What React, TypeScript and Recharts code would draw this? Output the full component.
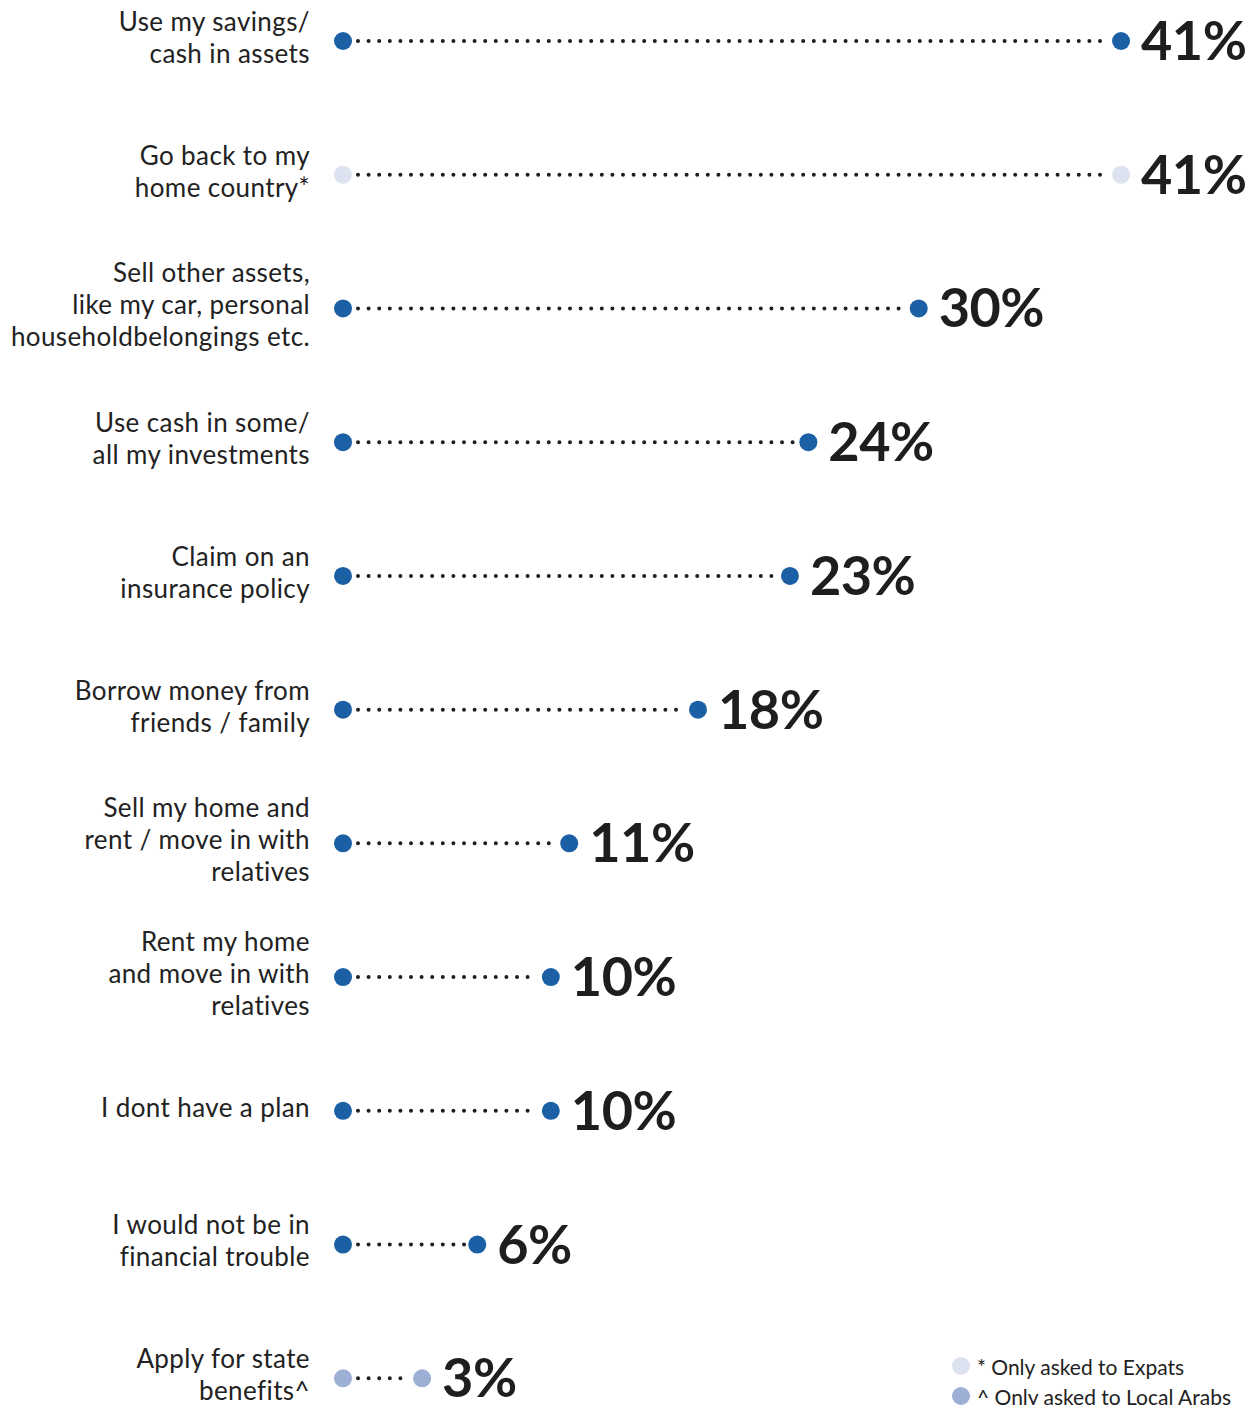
import React from "react";
import { Bar, ComposedChart, XAxis, YAxis } from "recharts";

const labels = [
  "Use my savings/\ncash in assets",
  "Go back to my\nhome country*",
  "Sell other assets,\nlike my car, personal\nhouseholdbelongings etc.",
  "Use cash in some/\nall my investments",
  "Claim on an\ninsurance policy",
  "Borrow money from\nfriends / family",
  "Sell my home and\nrent / move in with\nrelatives",
  "Rent my home\nand move in with\nrelatives",
  "I dont have a plan",
  "I would not be in\nfinancial trouble",
  "Apply for state\nbenefits^",
];
const values = [41, 41, 30, 24, 23, 18, 11, 10, 10, 6, 3];
const groups = ["all", "expat", "all", "all", "all", "all", "all", "all", "all", "all", "local"];

const legendLabels = ["* Only asked to Expats", "^ Only asked to Local Arabs"];
const legendGroups = ["expat", "local"];

const COLORS: Record<string, string> = {
  all: "#1b5fa4",
  expat: "#dde2f0",
  local: "#9dafd4",
};

const START = -1.3;
const FONT = "Lato, 'Open Sans', sans-serif";
const TEXT = "#222222";

const data = labels.map((label, i) => ({
  label,
  range: [START, values[i]],
  value: values[i],
  group: groups[i],
}));

function LabelTick(props: any) {
  const { x, y, payload } = props;
  const lines = String(payload.value).split("\n");
  const first = -((lines.length - 1) / 2) * 32 + 6;
  return (
    <text x={x} y={y} textAnchor="end" fontFamily={FONT} fontSize={26} letterSpacing={0.4} fill={TEXT}>
      {lines.map((line, i) => (
        <tspan key={i} x={x} y={y + first + i * 32}>
          {line}
        </tspan>
      ))}
    </text>
  );
}

function Dumbbell(props: any) {
  const { x, y, width, height, payload } = props;
  const cy = y + height / 2;
  const x1 = x;
  const x2 = x + width;
  const color = COLORS[payload.group];
  return (
    <g>
      <line
        x1={x1 + 15}
        x2={x2 - 13}
        y1={cy}
        y2={cy}
        stroke="#1e1e1e"
        strokeWidth={4}
        strokeLinecap="round"
        strokeDasharray="0 10.6"
      />
      <circle cx={x1} cy={cy} r={9} fill={color} />
      <circle cx={x2} cy={cy} r={9} fill={color} />
      <text
        x={x2 + 20}
        y={cy + 19}
        fontFamily={FONT}
        fontWeight={700}
        fontSize={54}
        letterSpacing={-0.5}
        fill="#1e1e1e"
      >
        {payload.value}%
      </text>
    </g>
  );
}

function LegendBox() {
  return (
    <div
      style={{
        position: "absolute",
        left: 952,
        top: 1351,
        fontFamily: FONT,
        fontSize: 21,
        color: TEXT,
        whiteSpace: "nowrap",
      }}
    >
      {legendLabels.map((t, i) => (
        <div key={t} style={{ display: "flex", alignItems: "center", height: 30 }}>
          <span
            style={{
              width: 18,
              height: 18,
              borderRadius: 9,
              background: COLORS[legendGroups[i]],
              marginRight: 7,
              display: "inline-block",
            }}
          />
          <span>{t}</span>
        </div>
      ))}
    </div>
  );
}

export default function App() {
  return (
    <div style={{ width: 1259, height: 1405, overflow: "hidden", position: "relative", background: "#fff" }}>
      <style>{"body{margin:0}"}</style>
      <div style={{ position: "absolute", left: 0, top: -26 }}>
        <ComposedChart
          width={1259}
          height={1471}
          data={data}
          layout="vertical"
          margin={{ top: 0, right: 0, bottom: 0, left: 0 }}
        >
          <XAxis type="number" domain={[START, 48.5]} hide />
          <YAxis
            type="category"
            dataKey="label"
            width={343}
            axisLine={false}
            tickLine={false}
            tickSize={0}
            tickMargin={33}
            interval={0}
            tick={<LabelTick />}
          />
          <Bar dataKey="range" barSize={20} shape={<Dumbbell />} isAnimationActive={false} />
        </ComposedChart>
      </div>
      <LegendBox />
    </div>
  );
}
